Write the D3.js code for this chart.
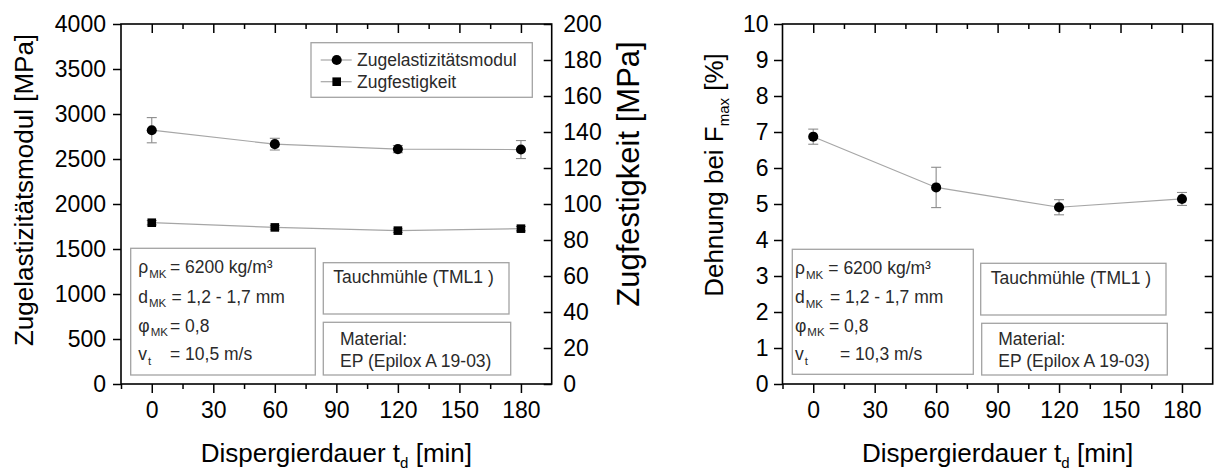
<!DOCTYPE html>
<html>
<head>
<meta charset="utf-8">
<script src="https://cdn.jsdelivr.net/npm/d3@7"></script>
<style>
  body { margin: 0; background: #fff; }
  svg { display: block; font-family: "Liberation Sans", Arial, sans-serif; }
  .axis path.domain { display: none; }
  .axis line { stroke: #000; stroke-width: 1.5; }
  .axis text { font-size: 23px; fill: #000; font-family: "Liberation Sans", Arial, sans-serif; }
</style>
</head>
<body>
<svg id="chart" width="1214" height="472"></svg>
<script>
// Dispersion time in minutes
const times = [0, 60, 120, 180];

// Tensile modulus [MPa] with standard deviation
const modulus = [2820, 2665, 2610, 2605];
const modulusErr = [140, 65, 40, 100];

// Tensile strength [MPa] with standard deviation
const strength = [89.6, 87.0, 85.2, 86.3];
const strengthErr = [1.2, 1.0, 1.0, 1.2];

// Elongation at F_max [%] with standard deviation
const elongation = [6.87, 5.46, 4.91, 5.14];
const elongationErr = [0.21, 0.56, 0.21, 0.18];

// Axis ticks
const xTicks = [0, 30, 60, 90, 120, 150, 180];
const xMinorTicks = [-15, 15, 45, 75, 105, 135, 165];
const modulusTicks = [0, 500, 1000, 1500, 2000, 2500, 3000, 3500, 4000];
const strengthTicks = [0, 20, 40, 60, 80, 100, 120, 140, 160, 180, 200];
const elongationTicks = [0, 1, 2, 3, 4, 5, 6, 7, 8, 9, 10];

// Legend entries
const legendLabels = ["Zugelastizitätsmodul", "Zugfestigkeit"];

// Annotation texts
const paramSymbols = ["ρ", "d", "φ", "v"];
const paramSubs = ["MK", "MK", "MK", "t"];
const paramValuesA = ["= 6200 kg/m³", "= 1,2 - 1,7 mm", "= 0,8", "= 10,5 m/s"];
const paramValuesB = ["= 6200 kg/m³", "= 1,2 - 1,7 mm", "= 0,8", "= 10,3 m/s"];
const millText = "Tauchmühle (TML1 )";
const materialLines = ["Material:", "EP (Epilox A 19-03)"];

const svg = d3.select("#chart");
const FONT = '"Liberation Sans", Arial, sans-serif';
const LINE_GREY = "#a6a6a6";
const ERR_GREY = "#8c8c8c";
const TEXT_DARK = "#2a2a2a";
const plain = d => String(d);

const panelA = { left: 121, right: 551.7, top: 24, bottom: 384 };
const panelB = { left: 782.5, right: 1212.7, top: 24, bottom: 384 };

function xAxes(p, x) {
  svg.append("g").attr("class", "axis").attr("transform", `translate(0,${p.bottom})`)
    .call(d3.axisBottom(x).tickValues(xTicks).tickFormat(plain).tickSize(9).tickPadding(9).tickSizeOuter(0));
  svg.append("g").attr("class", "axis").attr("transform", `translate(0,${p.bottom})`)
    .call(d3.axisBottom(x).tickValues(xMinorTicks).tickSize(5).tickFormat("").tickSizeOuter(0));
  svg.append("g").attr("class", "axis").attr("transform", `translate(0,${p.top})`)
    .call(d3.axisTop(x).tickValues(xTicks).tickSize(-9).tickFormat("").tickSizeOuter(0));
  svg.append("g").attr("class", "axis").attr("transform", `translate(0,${p.top})`)
    .call(d3.axisTop(x).tickValues(xMinorTicks.filter(v => v > -15)).tickSize(-5).tickFormat("").tickSizeOuter(0));
}

function frame(p) {
  svg.append("rect")
    .attr("x", p.left).attr("y", p.top)
    .attr("width", p.right - p.left).attr("height", p.bottom - p.top)
    .attr("fill", "none").attr("stroke", "#000").attr("stroke-width", 1.6);
}

function series(x, y, vals, errs, symbolType, symbolSize) {
  const pts = times.map((t, i) => ({ t, v: vals[i], e: errs[i] }));
  svg.append("path").datum(pts)
    .attr("fill", "none").attr("stroke", LINE_GREY).attr("stroke-width", 1.2)
    .attr("d", d3.line().x(d => x(d.t)).y(d => y(d.v)));
  const eb = svg.append("g").attr("stroke", ERR_GREY).attr("stroke-width", 1.1);
  pts.forEach(d => {
    const cx = x(d.t), y1 = y(d.v + d.e), y2 = y(d.v - d.e);
    eb.append("line").attr("x1", cx).attr("x2", cx).attr("y1", y1).attr("y2", y2);
    eb.append("line").attr("x1", cx - 5).attr("x2", cx + 5).attr("y1", y1).attr("y2", y1);
    eb.append("line").attr("x1", cx - 5).attr("x2", cx + 5).attr("y1", y2).attr("y2", y2);
  });
  svg.append("g").selectAll("path").data(pts).join("path")
    .attr("transform", d => `translate(${x(d.t)},${y(d.v)})`)
    .attr("d", d3.symbol(symbolType, symbolSize))
    .attr("fill", "#000");
}

function rotatedTitle(tx, ty, size, parts) {
  const t = svg.append("text")
    .attr("transform", `translate(${tx},${ty}) rotate(-90)`)
    .attr("text-anchor", "middle").attr("font-size", size).attr("font-family", FONT).attr("fill", "#000");
  parts(t);
}

function xTitle(cx) {
  const t = svg.append("text").attr("x", cx).attr("y", 462)
    .attr("text-anchor", "middle").attr("font-size", 26).attr("font-family", FONT).attr("fill", "#000");
  t.append("tspan").text("Dispergierdauer t");
  t.append("tspan").attr("font-size", 15).attr("dy", 6).text("d");
  t.append("tspan").attr("dy", -6).text(" [min]");
}

function box(x1, y1, x2, y2) {
  svg.append("rect").attr("x", x1).attr("y", y1).attr("width", x2 - x1).attr("height", y2 - y1)
    .attr("fill", "#fff").attr("stroke", "#a3a3a3").attr("stroke-width", 1.3);
}

function label(x, y, str) {
  svg.append("text").attr("x", x).attr("y", y).attr("font-size", 17.5)
    .attr("font-family", FONT).attr("fill", TEXT_DARK).text(str);
}

function annotations(cfg, values) {
  box(cfg.b1[0], cfg.b1[1], cfg.b1[2], cfg.b1[3]);
  paramSymbols.forEach((s, i) => {
    const t = svg.append("text").attr("x", cfg.symX).attr("y", cfg.rows[i])
      .attr("font-size", 17.5).attr("font-family", FONT).attr("fill", TEXT_DARK);
    t.append("tspan").text(s);
    t.append("tspan").attr("font-size", 11.5).attr("dy", 4.5).attr("dx", 1).text(paramSubs[i]);
    label(cfg.eqX[i], cfg.rows[i], values[i]);
  });
  box(cfg.b2[0], cfg.b2[1], cfg.b2[2], cfg.b2[3]);
  label(cfg.millX, cfg.millY, millText);
  box(cfg.b3[0], cfg.b3[1], cfg.b3[2], cfg.b3[3]);
  materialLines.forEach((m, i) => label(cfg.matX, cfg.matY[i], m));
}

// ---------- Left panel: modulus and strength ----------
const xA = d3.scaleLinear().domain([-15, 195]).range([panelA.left, panelA.right]);
const yA = d3.scaleLinear().domain([0, 4000]).range([panelA.bottom, panelA.top]);
const yA2 = d3.scaleLinear().domain([0, 200]).range([panelA.bottom, panelA.top]);

xAxes(panelA, xA);
svg.append("g").attr("class", "axis").attr("transform", `translate(${panelA.left},0)`)
  .call(d3.axisLeft(yA).tickValues(modulusTicks).tickFormat(plain).tickSize(8).tickPadding(7).tickSizeOuter(0));
svg.append("g").attr("class", "axis").attr("transform", `translate(${panelA.right},0)`)
  .call(d3.axisRight(yA2).tickValues(strengthTicks).tickFormat(plain).tickSize(-8).tickPadding(11.6).tickSizeOuter(0));

annotations({
  b1: [130.7, 248.3, 315.3, 375], symX: 138.3, rows: [273.3, 302.7, 331.7, 360],
  eqX: [170, 171.5, 170, 170],
  b2: [323.3, 262.7, 509, 314], millX: 333.3, millY: 283.3,
  b3: [323.3, 322.3, 510.7, 375], matX: 340, matY: [345, 366.7]
}, paramValuesA);

// legend
const lg = svg.append("g");
lg.append("rect").attr("x", 311).attr("y", 42.7).attr("width", 221.3).attr("height", 54.6)
  .attr("fill", "#fff").attr("stroke", "#a3a3a3").attr("stroke-width", 1.3);
[d3.symbolCircle, d3.symbolSquare].forEach((sym, i) => {
  const ly = 60 + i * 21.7;
  lg.append("line").attr("x1", 320.7).attr("x2", 351.7).attr("y1", ly).attr("y2", ly)
    .attr("stroke", LINE_GREY).attr("stroke-width", 1.2);
  lg.append("path").attr("transform", `translate(336.7,${ly})`)
    .attr("d", d3.symbol(sym, i === 0 ? 80 : 74)).attr("fill", "#000");
  lg.append("text").attr("x", 357).attr("y", ly + 6.3).attr("font-size", 17.5)
    .attr("font-family", FONT).attr("fill", TEXT_DARK).text(legendLabels[i]);
});

series(xA, yA, modulus, modulusErr, d3.symbolCircle, 80);
series(xA, yA2, strength, strengthErr, d3.symbolSquare, 74);
frame(panelA);

rotatedTitle(33, 190, 26, t => t.text("Zugelastizitätsmodul [MPa]"));
rotatedTitle(639, 174, 31, t => t.text("Zugfestigkeit [MPa]"));
xTitle((panelA.left + panelA.right) / 2);

// ---------- Right panel: elongation ----------
const xB = d3.scaleLinear().domain([-15, 195]).range([panelB.left, panelB.right]);
const yB = d3.scaleLinear().domain([0, 10]).range([panelB.bottom, panelB.top]);

xAxes(panelB, xB);
svg.append("g").attr("class", "axis").attr("transform", `translate(${panelB.left},0)`)
  .call(d3.axisLeft(yB).tickValues(elongationTicks).tickFormat(plain).tickSize(8.5).tickPadding(5.5).tickSizeOuter(0));
svg.append("g").attr("class", "axis").attr("transform", `translate(${panelB.right},0)`)
  .call(d3.axisRight(yB).tickValues(elongationTicks.filter(v => v > 0 && v < 10)).tickSize(-8).tickFormat("").tickSizeOuter(0));

annotations({
  b1: [792.3, 249.3, 973.3, 374.3], symX: 795, rows: [274, 303.3, 331.7, 360],
  eqX: [828.3, 830, 829, 840],
  b2: [980.7, 263.3, 1166, 315], millX: 990.7, millY: 284,
  b3: [981.7, 323.3, 1167.3, 375], matX: 998.3, matY: [345, 367.3]
}, paramValuesB);

series(xB, yB, elongation, elongationErr, d3.symbolCircle, 80);
frame(panelB);

rotatedTitle(723, 175, 26, t => {
  t.append("tspan").text("Dehnung bei F");
  t.append("tspan").attr("font-size", 15).attr("dy", 6).text("max");
  t.append("tspan").attr("dy", -6).text(" [%]");
});
xTitle((panelB.left + panelB.right) / 2);
</script>
</body>
</html>
